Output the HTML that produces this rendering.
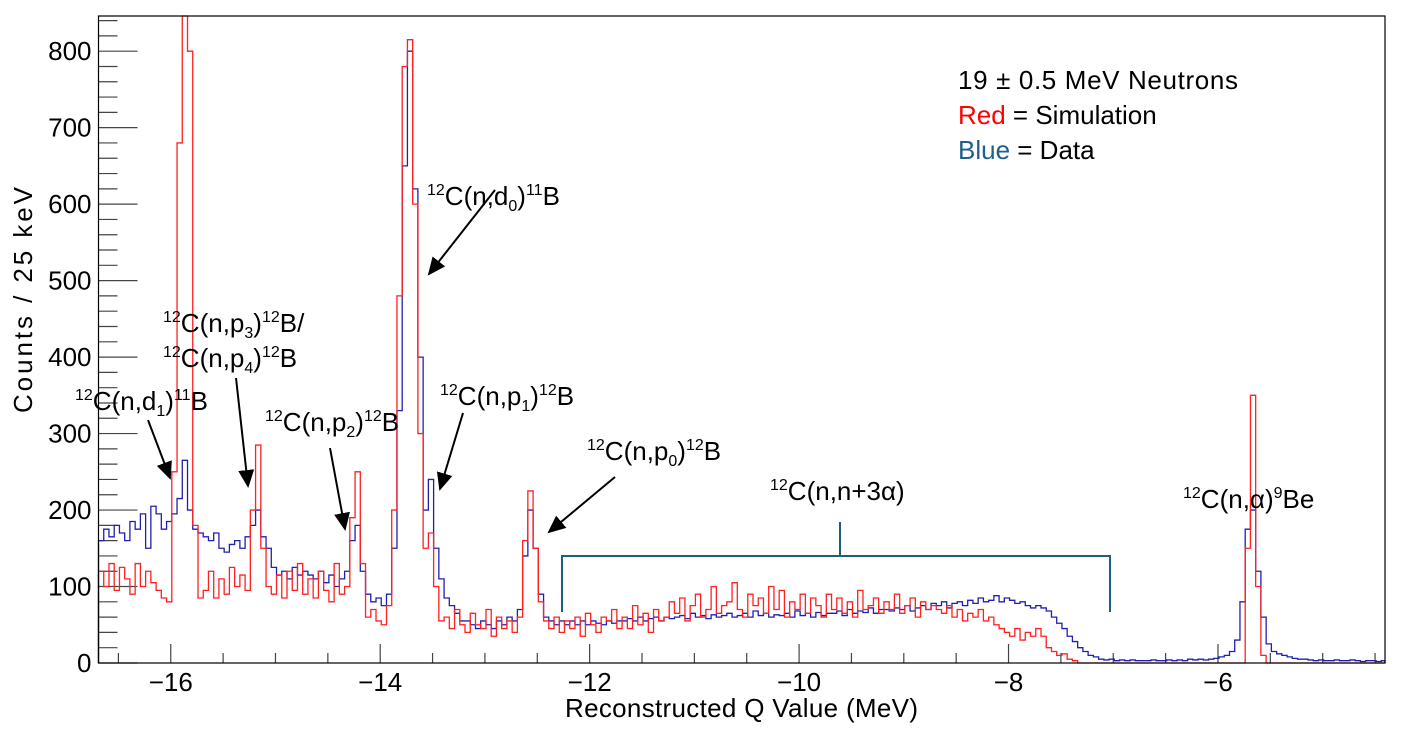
<!DOCTYPE html>
<html><head><meta charset="utf-8">
<style>
html,body{margin:0;padding:0;background:#fff;}
svg{display:block;font-family:"Liberation Sans",sans-serif;}
.ann{font-size:26px;fill:#000;}
.tick{font-size:26px;fill:#000;}
</style></head>
<body>
<svg id="chart" width="1406" height="734" viewBox="0 0 1406 734">
<defs><marker id="ah" markerWidth="10" markerHeight="10" refX="8" refY="5" orient="auto"><path d="M0,1 L9,5 L0,9 Z" fill="#000"/></marker></defs>
<g id="axes"></g>
<g id="series"></g>
<rect x="98.5" y="16" width="1286.5" height="647" fill="none" stroke="#000" stroke-width="1.2"/>
<g>
<text class="ann" x="958" y="89" textLength="280">19 ± 0.5 MeV Neutrons</text>
<text class="ann" x="958" y="124"><tspan fill="#ff0000">Red</tspan> = Simulation</text>
<text class="ann" x="958" y="159"><tspan fill="#1f5f8b">Blue</tspan> = Data</text>
</g>
<g>
<text class="ann" x="427" y="205"><tspan font-size="16" dy="-10">12</tspan><tspan dy="10">C(n,d</tspan><tspan font-size="16" dy="6">0</tspan><tspan dy="-6">)</tspan><tspan font-size="16" dy="-10">11</tspan><tspan dy="10">B</tspan></text>
<line x1="495" y1="190" x2="429" y2="274" stroke="#000" stroke-width="2" marker-end="url(#ah)"/>
<text class="ann" x="163" y="332"><tspan font-size="16" dy="-10">12</tspan><tspan dy="10">C(n,p</tspan><tspan font-size="16" dy="6">3</tspan><tspan dy="-6">)</tspan><tspan font-size="16" dy="-10">12</tspan><tspan dy="10">B/</tspan></text>
<text class="ann" x="163" y="367"><tspan font-size="16" dy="-10">12</tspan><tspan dy="10">C(n,p</tspan><tspan font-size="16" dy="6">4</tspan><tspan dy="-6">)</tspan><tspan font-size="16" dy="-10">12</tspan><tspan dy="10">B</tspan></text>
<line x1="236" y1="378" x2="248" y2="486" stroke="#000" stroke-width="2" marker-end="url(#ah)"/>
<text class="ann" x="75" y="410"><tspan font-size="16" dy="-10">12</tspan><tspan dy="10">C(n,d</tspan><tspan font-size="16" dy="6">1</tspan><tspan dy="-6">)</tspan><tspan font-size="16" dy="-10">11</tspan><tspan dy="10">B</tspan></text>
<line x1="148" y1="420" x2="170" y2="478" stroke="#000" stroke-width="2" marker-end="url(#ah)"/>
<text class="ann" x="265" y="431"><tspan font-size="16" dy="-10">12</tspan><tspan dy="10">C(n,p</tspan><tspan font-size="16" dy="6">2</tspan><tspan dy="-6">)</tspan><tspan font-size="16" dy="-10">12</tspan><tspan dy="10">B</tspan></text>
<line x1="330" y1="448" x2="345" y2="529" stroke="#000" stroke-width="2" marker-end="url(#ah)"/>
<text class="ann" x="440" y="405"><tspan font-size="16" dy="-10">12</tspan><tspan dy="10">C(n,p</tspan><tspan font-size="16" dy="6">1</tspan><tspan dy="-6">)</tspan><tspan font-size="16" dy="-10">12</tspan><tspan dy="10">B</tspan></text>
<line x1="463" y1="413" x2="440" y2="489" stroke="#000" stroke-width="2" marker-end="url(#ah)"/>
<text class="ann" x="587" y="460"><tspan font-size="16" dy="-10">12</tspan><tspan dy="10">C(n,p</tspan><tspan font-size="16" dy="6">0</tspan><tspan dy="-6">)</tspan><tspan font-size="16" dy="-10">12</tspan><tspan dy="10">B</tspan></text>
<line x1="615" y1="477" x2="549" y2="532" stroke="#000" stroke-width="2" marker-end="url(#ah)"/>
<text class="ann" x="770" y="500"><tspan font-size="16" dy="-10">12</tspan><tspan dy="10">C(n,n+3α)</tspan></text>
<path d="M562,612 V556 H1110 V612 M840,556 V522" fill="none" stroke="#1f5f7a" stroke-width="2"/>
<text class="ann" x="1183" y="508"><tspan font-size="16" dy="-10">12</tspan><tspan dy="10">C(n,α)</tspan><tspan font-size="16" dy="-10">9</tspan><tspan dy="10">Be</tspan></text>
</g>
<text class="ann" x="565" y="717" textLength="353" font-size="27">Reconstructed Q Value (MeV)</text>
<text class="ann" transform="translate(32,413) rotate(-90)" textLength="226" font-size="29">Counts / 25 keV</text>
</svg>
<script>
const binStart = -16.69;
const binWidth = 0.05;
const xTickLabels = [-16, -14, -12, -10, -8, -6];
const yTickLabels = [0, 100, 200, 300, 400, 500, 600, 700, 800];
const dataCounts = [
160,175,165,180,170,160,185,175,195,150,
205,195,175,185,195,215,265,200,175,170,
165,160,170,150,145,155,160,150,165,180,
200,165,150,125,115,120,110,125,115,120,
115,110,120,105,115,100,110,120,160,180,
120,90,80,85,75,90,150,330,650,800,
620,400,200,240,150,110,85,75,65,55,
55,50,45,55,50,45,55,50,60,55,
70,140,200,150,90,60,55,50,55,50,
55,50,55,50,55,52,50,55,52,55,
55,58,55,60,55,58,60,55,60,58,
60,62,58,65,60,62,58,63,60,62,
65,60,62,65,60,68,62,65,60,63,
62,65,60,68,62,65,60,66,62,65,
65,68,62,70,65,68,66,72,65,70,
70,68,72,70,75,68,72,75,70,78,
75,80,72,78,80,75,82,78,85,80,
82,88,80,85,82,78,80,75,72,75,
72,68,60,52,45,35,28,20,15,10,
8,5,4,5,3,4,3,4,3,3,
3,4,3,3,4,3,4,3,5,4,
5,4,5,6,8,10,15,30,80,175,
200,120,60,25,15,12,10,8,6,5,
5,4,3,4,3,3,4,3,3,4,
3,2,3,3,2,3];
const simCounts = [
120,100,130,95,125,110,90,130,100,120,
105,95,85,80,250,680,900,800,180,85,
95,120,85,110,90,125,100,115,95,200,
285,150,100,90,115,85,120,95,130,90,
110,85,120,95,80,130,90,100,190,250,
130,60,70,55,50,75,200,480,780,815,
600,300,150,170,100,55,60,45,70,50,
40,65,50,45,70,35,60,45,55,40,
60,160,225,150,80,55,45,60,40,55,
45,60,35,65,50,40,60,55,70,45,
60,45,75,50,65,40,70,55,60,80,
65,85,55,75,90,60,70,100,65,75,
80,105,70,60,90,75,85,65,100,70,
95,60,80,70,90,65,85,75,60,90,
70,85,65,80,60,95,70,75,85,65,
80,70,90,65,75,85,60,80,70,75,
70,65,75,60,70,55,65,60,70,55,
60,50,45,40,35,45,30,40,35,45,
35,20,15,10,12,5,3,0,0,0,
0,0,0,0,0,0,0,0,0,0,
0,0,0,0,0,0,0,0,0,0,
0,0,0,0,0,0,0,0,0,150,
350,100,10,0,0,0,0,0,0,0,
0,0,0,0,0,0,0,0,0,0,
0,0,0,0,0,0];

const X0=98.5, X1=1385, Y0=663, YT=16;
const xmin=-16.69, xmax=-4.405, ymax=846;
const xs = v => X0 + (v - xmin) / (xmax - xmin) * (X1 - X0);
const ys = v => Y0 - Math.min(v, ymax) / ymax * (Y0 - YT);
const NS='http://www.w3.org/2000/svg';
const axes=document.getElementById('axes');
const series=document.getElementById('series');

function mk(tag){return document.createElementNS(NS,tag);}

for(let c=0;c<=840;c+=20){
  const major = c%100===0;
  const l=mk('line');
  l.setAttribute('x1',X0);l.setAttribute('x2',X0+(major?39:19));
  l.setAttribute('y1',ys(c));l.setAttribute('y2',ys(c));
  l.setAttribute('stroke','#444');l.setAttribute('stroke-width','1.2');
  
  
  axes.appendChild(l);
}
yTickLabels.forEach(v=>{
  const t=mk('text');
  t.setAttribute('x',X0-7);t.setAttribute('y',ys(v)+9);
  t.setAttribute('text-anchor','end');t.setAttribute('class','tick');
  t.textContent=v;
  
  
  axes.appendChild(t);
});
for(let k=-33;k<=-9;k++){
  const v=k*0.5; if(v<xmin||v>xmax) continue;
  const major = Number.isInteger(v) && v%2===0;
  const l=mk('line');
  l.setAttribute('x1',xs(v));l.setAttribute('x2',xs(v));
  l.setAttribute('y1',Y0);l.setAttribute('y2',Y0-(major?19:10));
  l.setAttribute('stroke','#444');l.setAttribute('stroke-width','1.2');
  
  
  axes.appendChild(l);
}
xTickLabels.forEach(v=>{
  const t=mk('text');
  t.setAttribute('x',xs(v));t.setAttribute('y',Y0+28);
  t.setAttribute('text-anchor','middle');t.setAttribute('class','tick');
  t.textContent='\u2212'+Math.abs(v);
  
  
  axes.appendChild(t);
});

function hist(arr,color,name){
  let d='M'+xs(binStart)+','+ys(0);
  arr.forEach((v,i)=>{
    const b=Math.min(xmax,binStart+(i+1)*binWidth);
    d+=' V'+ys(v)+' H'+xs(b);
  });
  d+=' V'+ys(0);
  const p=mk('path');
  p.setAttribute('d',d);p.setAttribute('fill','none');
  p.setAttribute('stroke',color);p.setAttribute('stroke-width','1.3');
  
  
  series.appendChild(p);
}
hist(dataCounts,'#2020b0','data-histogram');
hist(simCounts,'#ff2020','simulation-histogram');
</script>
</body></html>
